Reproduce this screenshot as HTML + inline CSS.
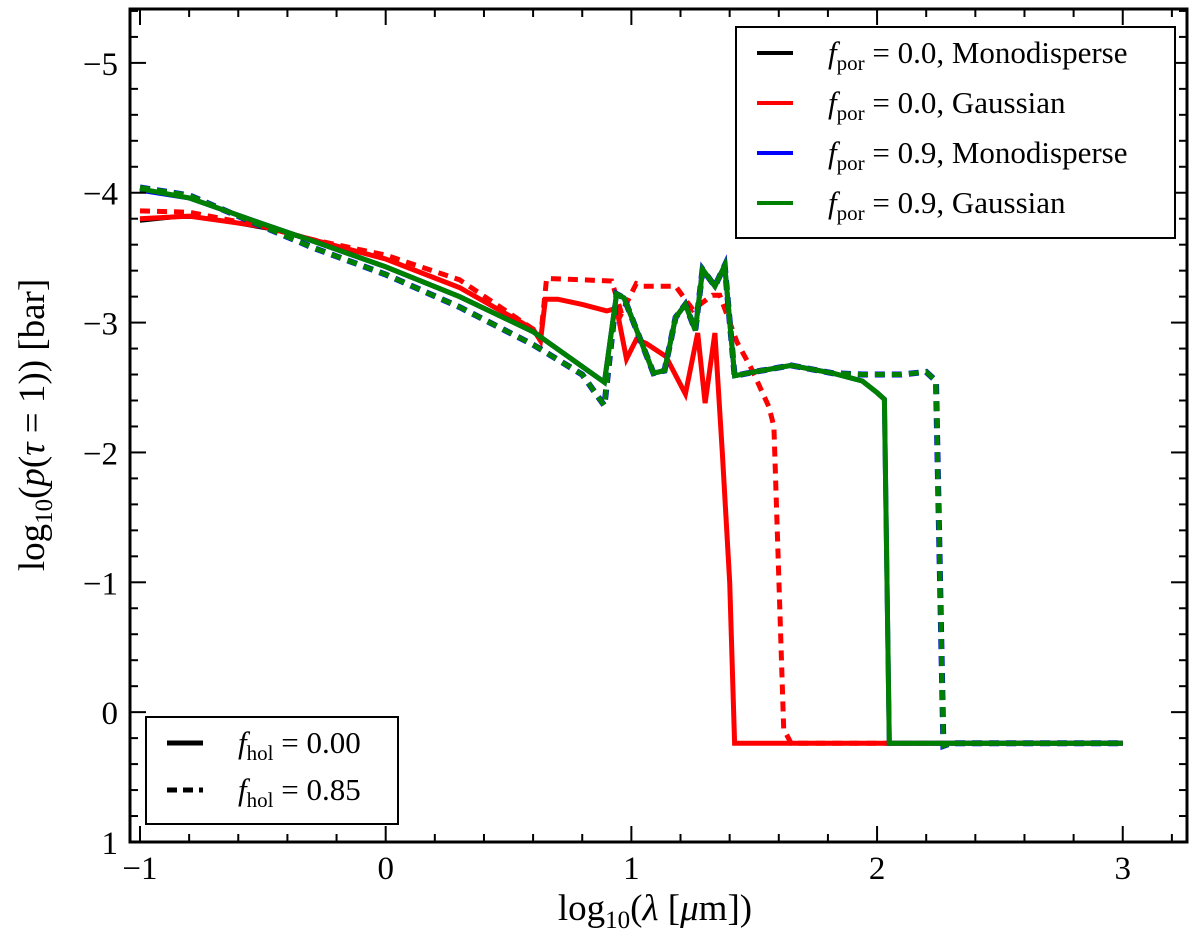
<!DOCTYPE html>
<html><head><meta charset="utf-8"><style>
body{margin:0;background:#fff;}
svg{display:block;font-family:"Liberation Serif",serif;}
</style></head><body>
<svg id="chart" width="1200" height="940" viewBox="0 0 1200 940" xmlns="http://www.w3.org/2000/svg">
<rect width="1200" height="940" fill="#fff"/>
<g id="series"></g>
<g id="axes"></g>
<g>
<rect x="736" y="27" width="439" height="211" fill="#fff" stroke="#000" stroke-width="2"/>
<line x1="757" y1="53" x2="793" y2="53" stroke="#000" stroke-width="4"/>
<line x1="757" y1="103" x2="793" y2="103" stroke="#f00" stroke-width="4"/>
<line x1="757" y1="153" x2="793" y2="153" stroke="#00f" stroke-width="4"/>
<line x1="757" y1="203" x2="793" y2="203" stroke="#008000" stroke-width="4"/>
<g font-size="31">
<text x="828" y="63"><tspan font-style="italic">f</tspan><tspan font-size="21" dy="7">por</tspan><tspan dy="-7"> = 0.0, Monodisperse</tspan></text>
<text x="828" y="113"><tspan font-style="italic">f</tspan><tspan font-size="21" dy="7">por</tspan><tspan dy="-7"> = 0.0, Gaussian</tspan></text>
<text x="828" y="163"><tspan font-style="italic">f</tspan><tspan font-size="21" dy="7">por</tspan><tspan dy="-7"> = 0.9, Monodisperse</tspan></text>
<text x="828" y="213"><tspan font-style="italic">f</tspan><tspan font-size="21" dy="7">por</tspan><tspan dy="-7"> = 0.9, Gaussian</tspan></text>
</g></g>
<g>
<rect x="146" y="717" width="252" height="107" fill="#fff" stroke="#000" stroke-width="2"/>
<line x1="167" y1="743" x2="203" y2="743" stroke="#000" stroke-width="5"/>
<line x1="167" y1="790" x2="203" y2="790" stroke="#000" stroke-width="5" stroke-dasharray="10,6"/>
<g font-size="31">
<text x="238" y="753"><tspan font-style="italic">f</tspan><tspan font-size="21" dy="7">hol</tspan><tspan dy="-7"> = 0.00</tspan></text>
<text x="238" y="800"><tspan font-style="italic">f</tspan><tspan font-size="21" dy="7">hol</tspan><tspan dy="-7"> = 0.85</tspan></text>
</g></g>
<text x="655" y="920" font-size="37" text-anchor="middle">log<tspan font-size="25" dy="8">10</tspan><tspan dy="-8">(</tspan><tspan font-style="italic">λ</tspan> [<tspan font-style="italic">μ</tspan>m])</text>
<text transform="translate(44,425) rotate(-90)" font-size="37" text-anchor="middle">log<tspan font-size="25" dy="8">10</tspan><tspan dy="-8">(</tspan><tspan font-style="italic">p</tspan>(<tspan font-style="italic">τ</tspan> = 1)) [bar]</text>
</svg>
<script>
const xTicks=[-1,0,1,2,3];
const yTicks=[-5,-4,-3,-2,-1,0,1];
// series data: x = log10 wavelength, y = log10 pressure
const blackSolidX=[-1,-0.85,-0.75,-0.6,-0.45,-0.3,0,0.3,0.6,0.89,0.94,0.97,1.09,1.135,1.18,1.22,1.26,1.29,1.34,1.38,1.42,1.5,1.65,1.82,1.94,2.0,2.03,2.05,3.0];
const blackSolidY=[-3.78,-3.81,-3.81,-3.76,-3.71,-3.63,-3.43,-3.2,-2.93,-2.54,-3.22,-3.19,-2.61,-2.63,-3.04,-3.14,-2.94,-3.41,-3.28,-3.44,-2.59,-2.62,-2.67,-2.61,-2.55,-2.46,-2.41,0.24,0.24];
const redSolidX=[-1,-0.8,-0.5,-0.3,0,0.3,0.6,0.63,0.65,0.7,0.8,0.9,0.94,0.98,1.02,1.06,1.14,1.22,1.27,1.3,1.34,1.37,1.4,1.42,1.5,2,3];
const redSolidY=[-3.80,-3.82,-3.74,-3.64,-3.49,-3.27,-2.95,-2.86,-3.18,-3.18,-3.14,-3.09,-3.11,-2.72,-2.87,-2.84,-2.74,-2.45,-2.92,-2.38,-2.92,-2,-1.0,0.24,0.24,0.24,0.24];
const redDashX=[-1,-0.8,-0.5,-0.3,0,0.3,0.6,0.63,0.655,0.92,0.96,1.02,1.05,1.18,1.25,1.33,1.36,1.43,1.49,1.56,1.58,1.62,1.65,2,3];
const redDashY=[-3.86,-3.85,-3.74,-3.64,-3.52,-3.33,-2.95,-2.88,-3.34,-3.32,-3.07,-3.3,-3.28,-3.28,-3.1,-3.21,-3.21,-2.85,-2.64,-2.35,-2.2,0.13,0.24,0.24,0.24];
const blueSolidX=[-1,-0.8,-0.5,-0.3,0,0.3,0.6,0.89,0.94,0.97,1.09,1.135,1.18,1.22,1.26,1.29,1.34,1.38,1.42,1.5,1.65,1.82,1.94,2.0,2.03,2.05,3.0];
const blueSolidY=[-4.02,-3.96,-3.76,-3.63,-3.43,-3.2,-2.93,-2.54,-3.22,-3.19,-2.61,-2.63,-3.04,-3.14,-2.94,-3.41,-3.28,-3.44,-2.59,-2.62,-2.67,-2.61,-2.55,-2.46,-2.41,0.24,0.24];
const greenSolidX=blueSolidX;
const greenSolidY=[-4.03,-3.96,-3.76,-3.63,-3.43,-3.2,-2.93,-2.54,-3.22,-3.19,-2.61,-2.63,-3.04,-3.14,-2.94,-3.41,-3.28,-3.44,-2.59,-2.62,-2.67,-2.61,-2.55,-2.46,-2.41,0.24,0.24];
const greenDashX=[-1,-0.8,-0.5,-0.3,0,0.3,0.6,0.8,0.89,0.94,0.97,1.09,1.135,1.18,1.22,1.26,1.29,1.34,1.38,1.42,1.5,1.65,1.82,1.94,2.1,2.2,2.24,2.27,2.3,3.0];
const greenDashY=[-4.04,-3.98,-3.74,-3.58,-3.37,-3.12,-2.83,-2.6,-2.36,-3.22,-3.19,-2.61,-2.63,-3.04,-3.14,-2.94,-3.41,-3.28,-3.44,-2.59,-2.62,-2.67,-2.61,-2.6,-2.6,-2.62,-2.55,0.26,0.24,0.24];

const L=130,R=1187,T=9,B=842;
const xMin=-1.0407,xMax=3.2615,yMin=-5.415,yMax=1.0;
const sx=v=>L+(v-xMin)/(xMax-xMin)*(R-L);
const sy=v=>T+(v-yMin)/(yMax-yMin)*(B-T);
const NS="http://www.w3.org/2000/svg";
const sg=document.getElementById('series');
function line(xs,ys,color,w,dash,name){
  const p=document.createElementNS(NS,'polyline');
  p.setAttribute('points',xs.map((x,i)=>sx(x).toFixed(1)+','+sy(ys[i]).toFixed(1)).join(' '));
  p.setAttribute('fill','none');p.setAttribute('stroke',color);p.setAttribute('stroke-width',w);
  p.setAttribute('stroke-linejoin','miter');
  if(dash)p.setAttribute('stroke-dasharray',dash);
  
  
  sg.appendChild(p);
}
line(blackSolidX,blackSolidY,'#000',3,null,'series-por0-mono-hol0');
line(redDashX,redDashY,'#f00',5,'10,7','series-por0-gauss-hol085');
line(redSolidX,redSolidY,'#f00',5,null,'series-por0-gauss-hol0');
line(blueSolidX,blueSolidY,'#00f',5,null,'series-por09-mono-hol0');
line(greenDashX,greenDashY,'#00f',6,'10,7','series-por09-mono-hol085');
line(greenDashX,greenDashY,'#008000',5,'10,7','series-por09-gauss-hol085');
line(greenSolidX,greenSolidY,'#008000',5,null,'series-por09-gauss-hol0');

const ax=document.getElementById('axes');
function el(tag,attrs){const e=document.createElementNS(NS,tag);for(const k in attrs)e.setAttribute(k,attrs[k]);ax.appendChild(e);return e;}
const fr=el('rect',{x:L,y:T,width:R-L,height:B-T,fill:'none',stroke:'#000','stroke-width':3});


for(let v=-1;v<=3.25;v+=0.2){
  const x=sx(v),maj=Math.abs(v-Math.round(v))<1e-6,len=maj?16:8;
  el('line',{x1:x,y1:B,x2:x,y2:B-len,stroke:'#000','stroke-width':2});
  el('line',{x1:x,y1:T,x2:x,y2:T+len,stroke:'#000','stroke-width':2});
}
for(let v=-5.4;v<=1.001;v+=0.2){
  const y=sy(v),maj=Math.abs(v-Math.round(v))<1e-6,len=maj?16:8;
  el('line',{x1:L,y1:y,x2:L+len,y2:y,stroke:'#000','stroke-width':2});
  el('line',{x1:R,y1:y,x2:R-len,y2:y,stroke:'#000','stroke-width':2});
}
xTicks.forEach(v=>{const t=el('text',{x:sx(v),y:879,'font-size':33,'text-anchor':'middle'});t.textContent=v<0?'\u2212'+(-v):String(v);

});
yTicks.forEach(v=>{const t=el('text',{x:118,y:sy(v)+12,'font-size':33,'text-anchor':'end'});t.textContent=v<0?'\u2212'+(-v):String(v);

});
</script>
</body></html>
